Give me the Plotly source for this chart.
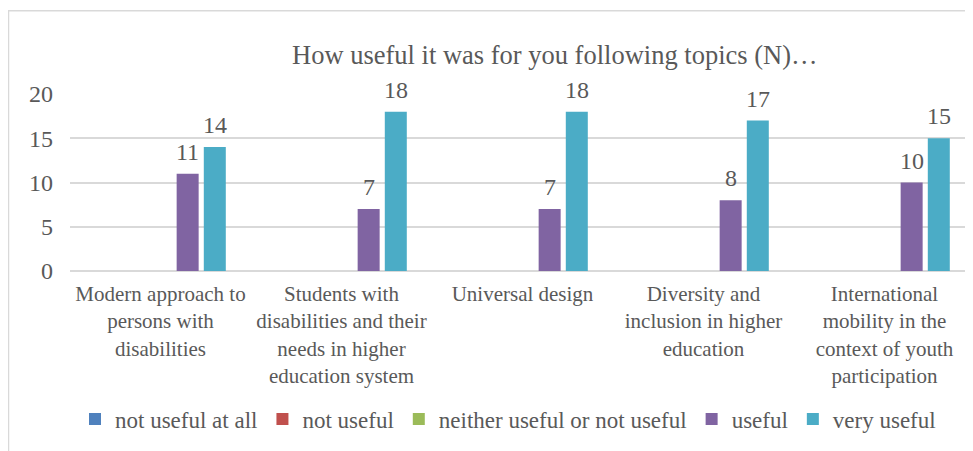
import plotly.graph_objects as go

categories = [
    "Modern approach to<br>persons with<br>disabilities",
    "Students with<br>disabilities and their<br>needs in higher<br>education system",
    "Universal design",
    "Diversity and<br>inclusion in higher<br>education",
    "International<br>mobility in the<br>context of youth<br>participation",
]
series_names = ["not useful at all", "not useful", "neither useful or not useful", "useful", "very useful"]
not_useful_at_all = [0, 0, 0, 0, 0]
not_useful = [0, 0, 0, 0, 0]
neither = [0, 0, 0, 0, 0]
useful = [11, 7, 7, 8, 10]
very_useful = [14, 18, 18, 17, 15]
show_labels = [False, False, False, True, True]
colors = ["#4F81BD", "#C0504D", "#9BBB59", "#8064A2", "#4BACC6"]
title_text = "How useful it was for you following topics (N)…"

FONT = "Liberation Serif"
GREY = "#595959"

BARGAP = 0.25
all_series = [not_useful_at_all, not_useful, neither, useful, very_useful]
n_series = len(all_series)
slot = (1 - BARGAP) / n_series

fig = go.Figure()
annotations = []
for k, (name, vals, col, lab) in enumerate(zip(series_names, all_series, colors, show_labels)):
    fig.add_trace(go.Bar(
        x=list(range(len(categories))), y=vals, name=name,
        marker=dict(color=col, line=dict(width=0)),
    ))
    if lab:
        off = (k - (n_series - 1) / 2) * slot
        for i, v in enumerate(vals):
            annotations.append(dict(text=str(v), x=i + off, y=v, xref="x", yref="y",
                                    showarrow=False, xanchor="center", yanchor="middle", yshift=22,
                                    font=dict(family=FONT, size=24, color=GREY)))

OFF = 8  # page body margin
W, H = 973 - OFF, 451 - OFF
L, R = 70 - OFF, 0
T = 94 - OFF
B = H - (271.5 - OFF)
pw = W - L - R
ph = H - T - B

def px_x(x):
    return (x - OFF - L) / pw

def px_y(y):
    return (H - B - (y - OFF)) / ph

annotations.append(dict(text=title_text, x=px_x(555), y=px_y(55), xref="paper", yref="paper",
                        showarrow=False, xanchor="center", yanchor="middle",
                        font=dict(family=FONT, size=26.5, color=GREY)))

fig.update_layout(
    width=W, height=H,
    margin=dict(l=L, r=R, t=T, b=B),
    paper_bgcolor="white", plot_bgcolor="white",
    barmode="group", bargap=BARGAP, bargroupgap=0.19,
    font=dict(family=FONT, color=GREY),
    showlegend=True,
    legend=dict(orientation="h", x=px_x(508), xanchor="center", y=px_y(420), yanchor="middle",
                font=dict(family=FONT, size=23, color=GREY), itemwidth=30,
                traceorder="normal"),
    xaxis=dict(tickvals=list(range(len(categories))), ticktext=categories,
               range=[-0.5, 4.5 - 2 / 181], showgrid=False, zeroline=False,
               showline=False, ticks="", tickfont=dict(family=FONT, size=21, color=GREY),
               ticklabelstandoff=8),
    yaxis=dict(range=[0, 20], dtick=5, showgrid=True, gridcolor="#D9D9D9", gridwidth=1.5,
               zeroline=True, zerolinecolor="#D9D9D9", zerolinewidth=1.5, showline=False,
               ticks="", tickfont=dict(family=FONT, size=24, color=GREY), ticklabelstandoff=16),
    annotations=annotations,
    shapes=[dict(type="rect", xref="paper", yref="paper",
                 x0=px_x(8.5), x1=px_x(990), y0=px_y(470), y1=px_y(10.5),
                 line=dict(color="#D9D9D9", width=1.5), fillcolor="rgba(0,0,0,0)", layer="below")],
)

fig.write_html("out.html")
